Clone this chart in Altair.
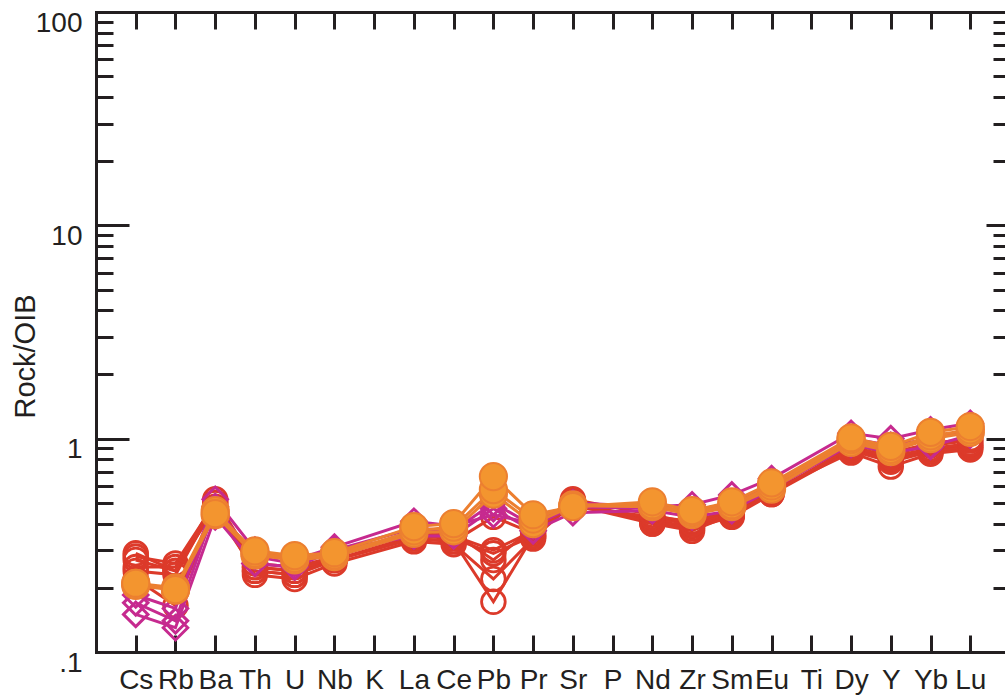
import altair as alt
import pandas as pd

# ---------------- data ----------------
ELEMENTS = ["Cs", "Rb", "Ba", "Th", "U", "Nb", "K", "La", "Ce", "Pb", "Pr",
            "Sr", "P", "Nd", "Zr", "Sm", "Eu", "Ti", "Dy", "Y", "Yb", "Lu"]
PLOTTED = ["Cs", "Rb", "Ba", "Th", "U", "Nb", "La", "Ce", "Pb", "Pr", "Sr",
           "Nd", "Zr", "Sm", "Eu", "Dy", "Y", "Yb", "Lu"]

red_1 = [0.28, 0.26, 0.50, 0.25, 0.24, 0.27, 0.34, 0.33, 0.43, 0.36, 0.50, 0.41, 0.39, 0.44, 0.56, 0.90, 0.80, 0.88, 0.93]
red_2 = [0.27, 0.24, 0.48, 0.24, 0.23, 0.27, 0.35, 0.34, 0.29, 0.35, 0.49, 0.40, 0.38, 0.43, 0.55, 0.88, 0.78, 0.87, 0.91]
red_3 = [0.24, 0.23, 0.50, 0.23, 0.22, 0.26, 0.33, 0.32, 0.22, 0.34, 0.50, 0.42, 0.40, 0.45, 0.57, 0.86, 0.74, 0.85, 0.89]
red_4 = [0.22, 0.165, 0.46, 0.24, 0.23, 0.27, 0.34, 0.33, 0.172, 0.35, 0.51, 0.40, 0.37, 0.44, 0.55, 0.92, 0.82, 0.90, 0.95]
red_5 = [0.25, 0.25, 0.47, 0.25, 0.24, 0.28, 0.36, 0.35, 0.30, 0.37, 0.48, 0.43, 0.41, 0.46, 0.58, 0.95, 0.84, 0.93, 0.98]
red_6 = [0.29, 0.24, 0.52, 0.26, 0.25, 0.28, 0.37, 0.36, 0.27, 0.38, 0.52, 0.44, 0.40, 0.47, 0.60, 0.97, 0.86, 0.95, 1.00]

magenta_1 = [0.15, 0.13, 0.43, 0.26, 0.25, 0.30, 0.35, 0.35, 0.47, 0.37, 0.45, 0.46, 0.43, 0.46, 0.58, 0.94, 0.86, 0.92, 1.04]
magenta_2 = [0.185, 0.16, 0.52, 0.30, 0.27, 0.31, 0.41, 0.39, 0.44, 0.40, 0.50, 0.48, 0.49, 0.545, 0.65, 1.06, 1.00, 1.10, 1.18]
magenta_3 = [0.17, 0.14, 0.48, 0.28, 0.26, 0.30, 0.38, 0.37, 0.50, 0.39, 0.48, 0.47, 0.46, 0.50, 0.61, 1.00, 0.93, 1.00, 1.10]

orange_3 = [0.205, 0.195, 0.44, 0.285, 0.27, 0.28, 0.36, 0.37, 0.55, 0.40, 0.485, 0.48, 0.44, 0.48, 0.58, 0.96, 0.87, 1.00, 1.07]
orange_2 = [0.21, 0.20, 0.46, 0.29, 0.275, 0.285, 0.37, 0.385, 0.577, 0.42, 0.49, 0.49, 0.45, 0.49, 0.60, 0.99, 0.89, 1.03, 1.10]
orange_1 = [0.21, 0.196, 0.445, 0.298, 0.283, 0.292, 0.387, 0.40, 0.664, 0.44, 0.48, 0.506, 0.46, 0.506, 0.62, 1.01, 0.92, 1.07, 1.14]

Y_MAJOR = [0.1, 1, 10, 100]
Y_MINOR = [0.2, 0.3, 0.4, 0.5, 0.6, 0.7, 0.8, 0.9,
           2, 3, 4, 5, 6, 7, 8, 9,
           20, 30, 40, 50, 60, 70, 80, 90]

# ---------------- styles ----------------
INK = "#231F20"
RED = "#DC3A2A"
MAGENTA = "#C62A8F"
ORANGE_FILL = "#F3952F"
ORANGE_EDGE = "#EC7F30"
FONT = "Liberation Sans"


def frame(name, series):
    rows = []
    for k, vals in enumerate(series):
        for el, v in zip(PLOTTED, vals):
            rows.append({"sample": f"{name}{k}", "order": k, "el": el,
                         "idx": ELEMENTS.index(el), "value": v})
    return pd.DataFrame(rows)


red_df = frame("r", [red_1, red_2, red_3, red_4, red_5, red_6])
mag_df = frame("m", [magenta_1, magenta_2, magenta_3])
org_df = frame("o", [orange_3, orange_2, orange_1])

XS = alt.Scale(domain=[-1, 21.874], nice=False, zero=False)
YS = alt.Scale(type="log", domain=[0.1, 100], nice=False)

label_expr = "[" + ",".join(f"'{e}'" for e in ELEMENTS) + "][datum.value]"

# axes
ax_left_frame = alt.Axis(orient="left", offset=0, ticks=False, labels=False,
                         domain=True, title="Rock/OIB", titleFont=FONT,
                         titleFontSize=29, titleFontWeight="normal", titleColor=INK,
                         titleAngle=270, titleAlign="center", titleBaseline="middle",
                         titleX=-71, titleY=344)
ax_left_major = alt.Axis(orient="left", offset=-33, tickSize=33, values=Y_MAJOR,
                         domain=False, labelPadding=14, labelOffset=11,
                         labelExpr="datum.value < 1 ? '.1' : format(datum.value, 'd')",
                         title=None)
ax_left_minor = alt.Axis(orient="left", offset=-17, tickSize=17, values=Y_MINOR,
                         domain=False, labels=False, title=None)
ax_right_major = alt.Axis(orient="right", offset=-19, tickSize=19, values=[1, 10],
                          domain=False, labels=False, title=None)
ax_right_minor = alt.Axis(orient="right", offset=-12, tickSize=12, values=Y_MINOR,
                          domain=False, labels=False, title=None)

ax_bottom_frame = alt.Axis(orient="bottom", offset=0, ticks=False, labels=False,
                           domain=True, title=None)
ax_bottom_ticks = alt.Axis(orient="bottom", offset=-17, tickSize=17,
                           values=list(range(len(ELEMENTS))), domain=False,
                           labelExpr=label_expr, labelPadding=14, title=None)
ax_top_frame = alt.Axis(orient="top", offset=0, ticks=False, labels=False,
                        domain=True, title=None)
ax_top_ticks = alt.Axis(orient="top", offset=-17, tickSize=17,
                        values=list(range(len(ELEMENTS))), domain=False,
                        labels=False, title=None)


def enc(chart, xaxis, yaxis, line=False):
    kw = dict(
        x=alt.X("idx:Q", scale=XS, axis=xaxis),
        y=alt.Y("value:Q", scale=YS, axis=yaxis),
    )
    if line:
        kw["detail"] = "sample:N"
        kw["order"] = "idx:Q"
    return chart.encode(**kw)


red_lines = enc(alt.Chart(red_df).mark_line(color=RED, strokeWidth=3),
                ax_bottom_frame, ax_left_frame, line=True)
red_pts = enc(alt.Chart(red_df).mark_point(shape="circle", filled=False, size=560,
                                           strokeWidth=2.8, color=RED, opacity=1),
              ax_bottom_ticks, ax_left_major)
mag_lines = enc(alt.Chart(mag_df).mark_line(color=MAGENTA, strokeWidth=3),
                ax_top_frame, ax_left_minor, line=True)
mag_pts = enc(alt.Chart(mag_df).mark_point(shape="diamond", filled=False, size=600,
                                           strokeWidth=3, color=MAGENTA, opacity=1),
              ax_top_ticks, ax_right_major)
org_lines = enc(alt.Chart(org_df).mark_line(color=ORANGE_EDGE, strokeWidth=3),
                None, ax_right_minor, line=True)
org_pts = enc(alt.Chart(org_df).mark_point(shape="circle", filled=True, size=740,
                                           fill=ORANGE_FILL, stroke=ORANGE_EDGE,
                                           strokeWidth=2, opacity=1),
              None, None)

chart = (
    alt.layer(red_lines, red_pts, mag_lines, mag_pts, org_lines, org_pts)
    .resolve_axis(x="independent", y="independent")
    .properties(width=909, height=640,
                padding={"left": 96, "top": 12, "right": 0, "bottom": 46},
                autosize=alt.AutoSizeParams(type="none"),
                background="white")
    .configure_view(stroke="transparent")
    .configure_axis(grid=False, tickColor=INK, tickWidth=3, domainColor=INK,
                    domainWidth=3, domainCap="square", labelFont=FONT,
                    labelFontSize=28, labelColor=INK, labelOverlap=False,
                    labelFlush=False, labelBound=False)
)

chart.save("out.html", embed_options={"renderer": "svg", "actions": False})
